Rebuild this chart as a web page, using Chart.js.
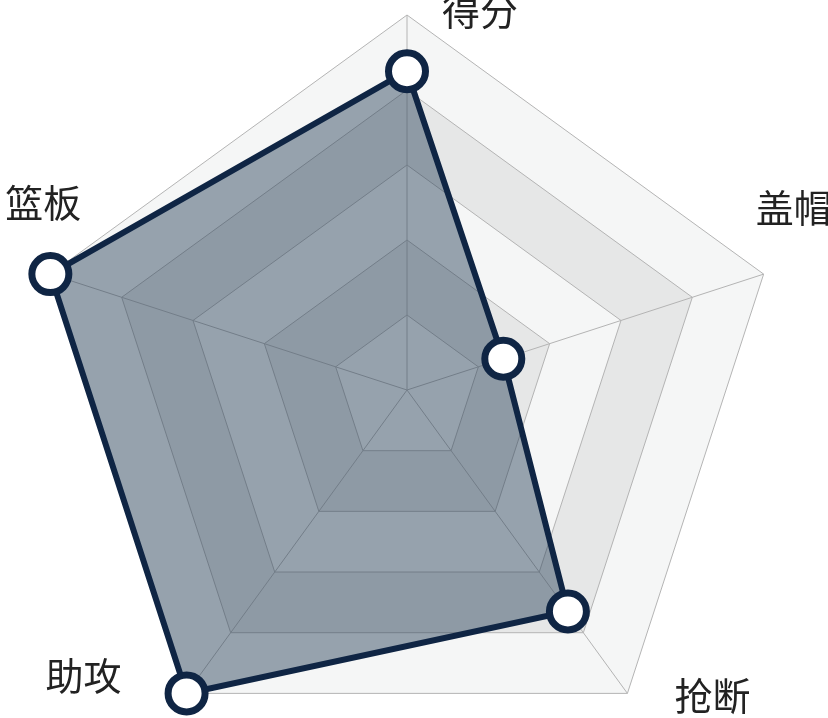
<!DOCTYPE html>
<html>
<head>
<meta charset="utf-8">
<script src="https://cdn.jsdelivr.net/npm/chart.js@4.4.1/dist/chart.umd.min.js"></script>
<style>
  html, body { margin: 0; padding: 0; background: #fff; }
  #wrap { position: relative; width: 828px; height: 718px; overflow: hidden; }
  #radar { position: absolute; left: -93px; top: -110px; }
</style>
</head>
<body>
<div id="wrap">
  <canvas id="radar" width="1000" height="1000"></canvas>
</div>
<script>
// Categories and values
var categories = ['得分', '盖帽', '抢断', '助攻', '篮板'];
var playerValues = [85, 27, 73, 100, 100];
var tickValues = [0, 20, 40, 60, 80, 100];

// Alternating bands behind the grid (light on outside)
var bandPlugin = {
    id: 'bands',
    beforeDraw: function (chart) {
        var r = chart.scales.r;
        var ctx = chart.ctx;
        var n = categories.length;
        ctx.save();
        for (var k = tickValues.length - 1; k > 0; k--) {
            var dist = r.getDistanceFromCenterForValue(tickValues[k]);
            ctx.beginPath();
            for (var i = 0; i < n; i++) {
                var p = r.getPointPosition(i, dist);
                if (i === 0) ctx.moveTo(p.x, p.y); else ctx.lineTo(p.x, p.y);
            }
            ctx.closePath();
            ctx.fillStyle = (tickValues.length - 1 - k) % 2 === 0 ? '#f5f6f6' : '#e6e7e7';
            ctx.fill();
        }
        ctx.restore();
    }
};

// Axis names, drawn next to each outer vertex
var labelOffsets = [[73, -4], [30, -67], [85, 2], [-103, -18], [-7, -72]];
var namePlugin = {
    id: 'names',
    afterDraw: function (chart) {
        var r = chart.scales.r;
        var ctx = chart.ctx;
        ctx.save();
        ctx.font = '38px "Noto Sans CJK SC", "Noto Sans", sans-serif';
        ctx.fillStyle = '#222222';
        ctx.textAlign = 'center';
        ctx.textBaseline = 'middle';
        categories.forEach(function (name, i) {
            var p = r.getPointPosition(i, r.drawingArea);
            ctx.fillText(name, p.x + labelOffsets[i][0], p.y + labelOffsets[i][1]);
        });
        ctx.restore();
    }
};

const radarChart = new Chart(document.getElementById('radar').getContext('2d'), {
    type: 'radar',
    data: {
        labels: categories,
        datasets: [{
            data: playerValues,
            backgroundColor: 'rgba(36, 60, 85, 0.45)',
            borderColor: '#0f2544',
            borderWidth: 6,
            fill: true,
            pointRadius: 18.5,
            pointHoverRadius: 18.5,
            pointBackgroundColor: '#ffffff',
            pointBorderColor: '#0f2544',
            pointBorderWidth: 7
        }]
    },
    options: {
        responsive: false,
        animation: false,
        layout: { padding: 125 },
        plugins: {
            legend: { display: false },
            tooltip: { enabled: false }
        },
        scales: {
            r: {
                min: tickValues[0],
                max: tickValues[tickValues.length - 1],
                ticks: { display: false, stepSize: 20 },
                pointLabels: { display: false },
                grid: { color: '#b4b4b4', lineWidth: 1 },
                angleLines: { color: '#b4b4b4', lineWidth: 1 }
            }
        }
    },
    plugins: [bandPlugin, namePlugin]
});
</script>
</body>
</html>
